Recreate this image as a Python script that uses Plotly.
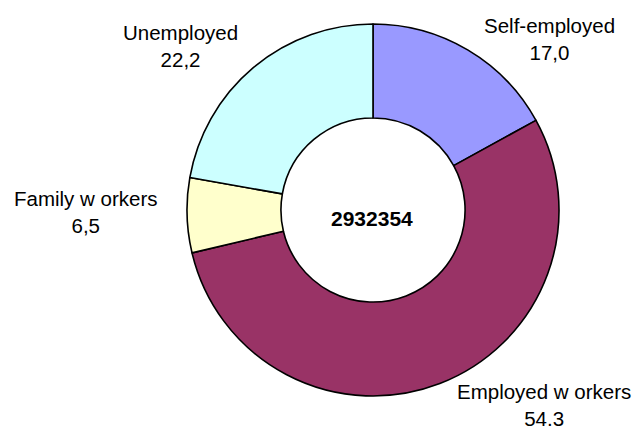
import plotly.graph_objects as go

W, H = 634, 430

# Data
categories = ["Self-employed", "Employed w orkers", "Family w orkers", "Unemployed"]
values = [17.0, 54.3, 6.5, 22.2]
value_labels = ["17,0", "54.3", "6,5", "22,2"]
total_label = "2932354"
colors = ["#9999FF", "#993366", "#FFFFCC", "#CCFFFF"]

# Layout (pixel positions of the donut and the label blocks)
cx, cy, r = 373, 210, 186
label_pos = [(549, 39), (544, 405), (86, 212), (180, 46)]

fig = go.Figure(go.Pie(
    labels=categories,
    values=values,
    hole=0.495,
    sort=False,
    direction="clockwise",
    rotation=0,
    textinfo="none",
    hoverinfo="label+value",
    marker=dict(colors=colors, line=dict(color="black", width=1.6)),
    domain=dict(x=[(cx - r) / W, (cx + r) / W],
                y=[1 - (cy + r) / H, 1 - (cy - r) / H]),
    showlegend=False,
))

annotations = []
for cat, val, (px, py) in zip(categories, value_labels, label_pos):
    annotations.append(dict(
        x=px / W, y=1 - py / H, xref="paper", yref="paper",
        text=f"{cat}<br>{val}", showarrow=False, align="center",
        xanchor="center", yanchor="middle",
        font=dict(family="Liberation Sans, Arial", size=20.5, color="black"),
    ))
annotations.append(dict(
    x=372 / W, y=1 - 218 / H, xref="paper", yref="paper",
    text=f"<b>{total_label}</b>", showarrow=False,
    xanchor="center", yanchor="middle",
    font=dict(family="Liberation Sans, Arial", size=21, color="black"),
))

fig.update_layout(
    width=W, height=H,
    margin=dict(l=0, r=0, t=0, b=0),
    paper_bgcolor="white", plot_bgcolor="white",
    annotations=annotations,
)

fig.write_html("out.html",
               config={"displayModeBar": False},
               post_script="document.body.style.margin='0';document.body.style.padding='0';")
